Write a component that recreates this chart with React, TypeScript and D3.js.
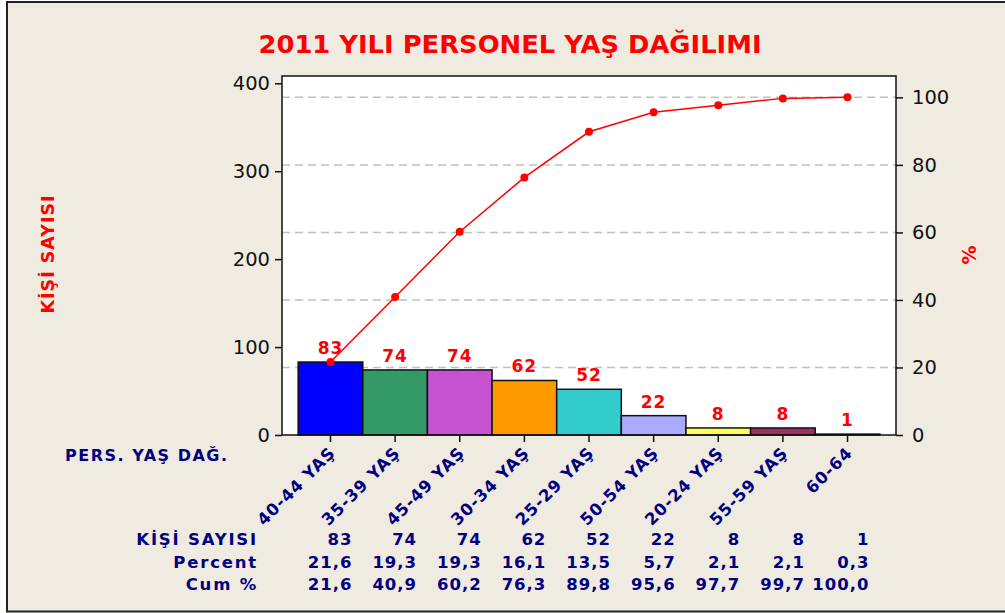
import React, { useEffect, useRef } from 'react';
import * as d3 from 'd3';

const categories = ['40-44 YAŞ', '35-39 YAŞ', '45-49 YAŞ', '30-34 YAŞ', '25-29 YAŞ', '50-54 YAŞ', '20-24 YAŞ', '55-59 YAŞ', '60-64'];
const counts = [83, 74, 74, 62, 52, 22, 8, 8, 1];
const percents = ['21,6', '19,3', '19,3', '16,1', '13,5', '5,7', '2,1', '2,1', '0,3'];
const cumPercents = [21.6, 40.9, 60.2, 76.3, 89.8, 95.6, 97.7, 99.7, 100.0];
const leftTicks = [0, 100, 200, 300, 400];
const rightTicks = [0, 20, 40, 60, 80, 100];
const barColors = ['#0000ff', '#339966', '#c752d2', '#ff9900', '#33cccc', '#aaaaff', '#ffff55', '#993366', '#000066'];

const W = 1005;
const H = 613;
const NAVY = '#000080';
const RED = '#ff0000';
const FONT = "'DejaVu Sans', Verdana, sans-serif";

export default function App() {
  const svgRef = useRef<SVGSVGElement>(null);

  useEffect(() => {
    if (!svgRef.current) return;
    const svg = d3.select(svgRef.current);
    svg.selectAll('*').remove();

    const plot = { left: 282, right: 896, top: 76, bottom: 435 };
    const total = d3.sum(counts);
    const yMax = 408.3;

    const x = d3.scaleBand<string>()
      .domain(categories)
      .range([plot.left, plot.right])
      .paddingInner(0)
      .paddingOuter(0.25);
    const y = d3.scaleLinear().domain([0, yMax]).range([plot.bottom, plot.top]);
    const y2 = d3.scaleLinear().domain([0, (yMax / total) * 100]).range([plot.bottom, plot.top]);

    // background frame
    svg.append('rect')
      .attr('x', 7).attr('y', 2)
      .attr('width', W).attr('height', 609.5)
      .attr('fill', '#f0ebe1')
      .attr('stroke', '#222').attr('stroke-width', 2);

    svg.append('text')
      .attr('x', 510).attr('y', 53)
      .attr('text-anchor', 'middle')
      .attr('font-family', FONT).attr('font-weight', 'bold')
      .attr('font-size', 25)
      .attr('textLength', 503).attr('lengthAdjust', 'spacingAndGlyphs')
      .attr('fill', RED)
      .text('2011 YILI PERSONEL YAŞ DAĞILIMI');

    // plot area
    svg.append('rect')
      .attr('x', plot.left).attr('y', plot.top)
      .attr('width', plot.right - plot.left).attr('height', plot.bottom - plot.top)
      .attr('fill', '#fff');

    // dashed grid at % ticks
    svg.append('g')
      .selectAll('line')
      .data(rightTicks.filter((t) => t > 0))
      .enter()
      .append('line')
      .attr('x1', plot.left).attr('x2', plot.right)
      .attr('y1', (d) => y2(d)).attr('y2', (d) => y2(d))
      .attr('stroke', '#c0c0c0').attr('stroke-width', 1.5)
      .attr('stroke-dasharray', '8,5');

    // bars
    svg.append('g')
      .selectAll('rect')
      .data(counts)
      .enter()
      .append('rect')
      .attr('x', (_, i) => x(categories[i])!)
      .attr('y', (d) => y(d))
      .attr('width', x.bandwidth())
      .attr('height', (d) => y(0) - y(d))
      .attr('fill', (_, i) => barColors[i])
      .attr('stroke', '#111').attr('stroke-width', 1.5);

    // bar value labels
    svg.append('g')
      .selectAll('text')
      .data(counts)
      .enter()
      .append('text')
      .attr('x', (_, i) => x(categories[i])! + x.bandwidth() / 2)
      .attr('y', (d) => y(d) - 8)
      .attr('text-anchor', 'middle')
      .attr('font-family', FONT).attr('font-weight', 'bold')
      .attr('font-size', 17).attr('letter-spacing', 1)
      .attr('fill', RED)
      .text((d) => d);

    // cumulative line
    const cx = (i: number) => x(categories[i])! + x.bandwidth() / 2;
    const line = d3.line<number>()
      .x((_, i) => cx(i))
      .y((d) => y2(d));
    svg.append('path')
      .datum(cumPercents)
      .attr('d', line)
      .attr('fill', 'none')
      .attr('stroke', RED).attr('stroke-width', 1.5);
    svg.append('g')
      .selectAll('circle')
      .data(cumPercents)
      .enter()
      .append('circle')
      .attr('cx', (_, i) => cx(i))
      .attr('cy', (d) => y2(d))
      .attr('r', 4)
      .attr('fill', RED);

    // plot border
    svg.append('rect')
      .attr('x', plot.left).attr('y', plot.top)
      .attr('width', plot.right - plot.left).attr('height', plot.bottom - plot.top)
      .attr('fill', 'none')
      .attr('stroke', '#111').attr('stroke-width', 1.5);

    const styleAxis = (g: d3.Selection<SVGGElement, unknown, null, undefined>) => {
      g.select('.domain').remove();
      g.selectAll('.tick line').attr('stroke', '#111').attr('stroke-width', 1.5);
      g.selectAll('.tick text')
        .attr('font-family', FONT)
        .attr('font-size', 19.5)
        .attr('fill', '#111');
    };

    const leftAxis = svg.append('g')
      .attr('transform', `translate(${plot.left},0)`)
      .call(d3.axisLeft(y).tickValues(leftTicks).tickSize(7).tickPadding(5));
    styleAxis(leftAxis);

    const rightAxis = svg.append('g')
      .attr('transform', `translate(${plot.right},0)`)
      .call(d3.axisRight(y2).tickValues(rightTicks).tickSize(7).tickPadding(9));
    styleAxis(rightAxis);

    const bottomAxis = svg.append('g')
      .attr('transform', `translate(0,${plot.bottom})`)
      .call(d3.axisBottom(x).tickSize(7).tickFormat(() => ''));
    styleAxis(bottomAxis);

    // rotated category labels
    svg.append('g')
      .selectAll('text')
      .data(categories)
      .enter()
      .append('text')
      .attr('transform', (_, i) => `translate(${cx(i) + 6},${plot.bottom + 19}) rotate(-45)`)
      .attr('text-anchor', 'end')
      .attr('font-family', FONT).attr('font-weight', 'bold')
      .attr('font-size', 16.5).attr('letter-spacing', 1)
      .attr('fill', NAVY)
      .text((d) => d);

    // axis titles
    svg.append('text')
      .attr('transform', 'translate(54,254) rotate(-90)')
      .attr('text-anchor', 'middle')
      .attr('font-family', FONT).attr('font-weight', 'bold')
      .attr('font-size', 17.5).attr('letter-spacing', 1)
      .attr('fill', RED)
      .text('KİŞİ SAYISI');
    svg.append('text')
      .attr('transform', 'translate(976,255) rotate(-90)')
      .attr('text-anchor', 'middle')
      .attr('font-family', FONT).attr('font-weight', 'bold')
      .attr('font-size', 19)
      .attr('fill', RED)
      .text('%');

    svg.append('text')
      .attr('x', 65).attr('y', 461)
      .attr('font-family', FONT).attr('font-weight', 'bold')
      .attr('font-size', 16).attr('letter-spacing', 1.5)
      .attr('fill', NAVY)
      .text('PERS. YAŞ DAĞ.');

    // table below the chart
    const rows = [
      { label: 'KİŞİ SAYISI', values: counts.map(String) },
      { label: 'Percent', values: percents },
      { label: 'Cum %', values: cumPercents.map((v) => v.toFixed(1).replace('.', ',')) },
    ];
    rows.forEach((row, r) => {
      const yy = 545 + r * 22.5;
      svg.append('text')
        .attr('x', 258).attr('y', yy)
        .attr('text-anchor', 'end')
        .attr('font-family', FONT).attr('font-weight', 'bold')
        .attr('font-size', 16.5).attr('letter-spacing', 1.8)
        .attr('fill', NAVY)
        .text(row.label);
      row.values.forEach((v, i) => {
        svg.append('text')
          .attr('x', cx(i) + 22).attr('y', yy)
          .attr('text-anchor', 'end')
          .attr('font-family', FONT).attr('font-weight', 'bold')
          .attr('font-size', 16.5).attr('letter-spacing', 1)
          .attr('fill', NAVY)
          .text(v);
      });
    });
  }, []);

  return (
    <svg
      ref={svgRef}
      width={W}
      height={H}
      style={{ position: 'absolute', left: 0, top: 0, background: '#fff' }}
    />
  );
}
